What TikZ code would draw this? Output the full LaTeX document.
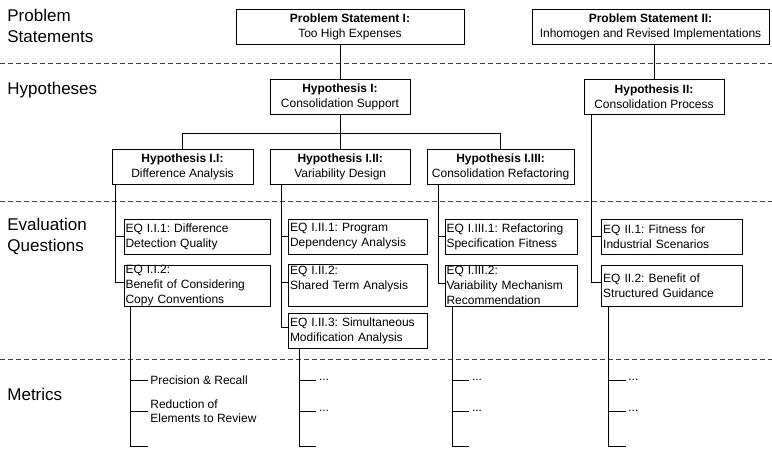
\documentclass[tikz,border=0pt]{standalone}
\usepackage{fontspec}
\setmainfont{Liberation Sans}
\frenchspacing
\begin{document}
\begin{tikzpicture}[x=1pt,y=-1pt,
  line width=0.8pt,
  box/.style={draw,fill=white,line width=0.8pt,inner ysep=0pt,font=\fontsize{12}{15}\selectfont\frenchspacing},
  hbox/.style={box,align=center,inner xsep=2pt,minimum height=35pt},
  eq/.style={box,align=left,inner xsep=1.5pt,minimum height=35pt},
  lbl/.style={font=\fontsize{17}{21}\selectfont,anchor=west,align=left,inner sep=0pt},
  metric/.style={font=\fontsize{12}{14}\selectfont\frenchspacing,anchor=west,align=left,inner xsep=2.3pt,inner ysep=0pt},
  sep/.style={draw=black!75,line width=0.8pt,dash pattern=on 5pt off 3pt}]
\useasboundingbox (0,0) rectangle (772,448);
% separators
\draw[sep] (0,63) -- (772,63);
\draw[sep] (0,201) -- (772,201);
\draw[sep] (0,359) -- (772,359);
% row labels
\node[lbl] (l1) at (7,26) {Problem\\Statements};
\node[lbl] (l2) at (7,90) {Hypotheses};
\node[lbl] (l3) at (7,236) {Evaluation\\Questions};
\node[lbl] (l4) at (7,394) {Metrics};
% problem statements
\node[hbox,minimum width=228pt] (ps1) at (350,26.5) {\textbf{Problem Statement I:}\\Too High Expenses};
\node[hbox,minimum width=237pt] (ps2) at (650.5,26.5) {\textbf{Problem Statement II:}\\Inhomogen and Revised Implementations};
% hypotheses
\node[hbox,minimum width=140pt] (h1) at (340,96.5) {\textbf{Hypothesis I:}\\Consolidation Support};
\node[hbox,minimum width=140pt] (h2) at (654,96.5) {\textbf{Hypothesis II:}\\Consolidation Process};
\node[hbox,minimum width=141pt,minimum height=34.5pt] (hi) at (182.5,166.75) {\textbf{Hypothesis I.I:}\\Difference Analysis};
\node[hbox,minimum width=139.5pt,minimum height=34.5pt] (hii) at (340.25,166.75) {\textbf{Hypothesis I.II:}\\Variability Design};
\node[hbox,minimum width=146.7pt,minimum height=34.5pt] (hiii) at (500.65,166.75) {\textbf{Hypothesis I.III:}\\Consolidation Refactoring};
% evaluation questions
\node[eq,text width=143.7pt] (e11) at (197.35,236.5) {EQ I.I.1: Difference\\Detection Quality};
\node[eq,text width=143.7pt,minimum height=41pt] (e12) at (197.35,285.5) {EQ I.I.2:\\Benefit of Considering\\Copy Conventions};
\node[eq,text width=136pt] (e21) at (358,236.5) {EQ I.II.1: Program\\Dependency Analysis};
\node[eq,text width=136pt,minimum height=41.5pt] (e22) at (358,285.25) {EQ I.II.2:\\Shared Term Analysis\\~};
\node[eq,text width=135.5pt] (e23) at (357.75,330.8) {EQ I.II.3: Simultaneous\\Modification Analysis};
\node[eq,text width=129.5pt] (e31) at (511.25,236.5) {EQ I.III.1: Refactoring\\Specification Fitness};
\node[eq,text width=129.5pt,minimum height=41pt] (e32) at (511.25,285.5) {EQ I.III.2:\\Variability Mechanism\\Recommendation};
\node[eq,text width=137.3pt] (e41) at (671.85,236.5) {EQ II.1: Fitness for\\Industrial Scenarios};
\node[eq,text width=137.3pt,minimum height=41pt] (e42) at (671.85,285.5) {EQ II.2: Benefit of\\Structured Guidance};
% top connectors
\draw (h1.north) -- (h1.north |- ps1.south);
\draw (h2.north) -- (h2.north |- ps2.south);
\coordinate (bar) at (0,133);
\draw (h1.south) -- (h1.south |- bar);
\draw (hi.north) -- (hi.north |- bar) -| (hiii.north);
\draw (hii.north) -- (hii.north |- bar);
% hypothesis to EQ connectors
\coordinate (vi) at ([xshift=4pt]hi.south west);
\coordinate (vii) at ([xshift=11pt]hii.south west);
\coordinate (viii) at ([xshift=11.7pt]hiii.south west);
\coordinate (vh2) at ([xshift=8pt]h2.south west);
\draw (vi) |- (e11.west);
\draw (vi) |- ([yshift=3.5pt]e12.west);
\draw (vii) |- (e21.west);
\draw (vii) |- ([yshift=2.5pt]e22.west);
\draw (vii) |- ([yshift=3pt]e23.west);
\draw (viii) |- (e31.west);
\draw (viii) |- ([yshift=2.5pt]e32.west);
\draw (vh2) |- (e41.west);
\draw (vh2) |- ([yshift=3pt]e42.west);
% metrics
\coordinate (mi) at ([xshift=6.7pt]e12.south west);
\coordinate (mii) at ([xshift=10.8pt]e23.south west);
\coordinate (miii) at ([xshift=7.3pt]e32.south west);
\coordinate (miv) at ([xshift=7pt]e42.south west);
\node[metric] (m11) at (147.7,380) {Precision \& Recall};
\node[metric] (m12) at (147.7,411) {Reduction of\\Elements to Review};
\coordinate (m13) at (147.7,446);
\node[metric] (m21) at (316.3,380) {...};
\node[metric] (m22) at (316.3,411) {...};
\coordinate (m23) at (316.3,446);
\node[metric] (m31) at (469.3,380) {...};
\node[metric] (m32) at (469.3,411) {...};
\coordinate (m33) at (469.3,446);
\node[metric] (m41) at (625.7,380) {...};
\node[metric] (m42) at (625.7,411) {...};
\coordinate (m43) at (625.7,446);
\draw (mi) |- (m11.west); \draw (mi) |- (m12.west); \draw (mi) |- (m13);
\draw (mii) |- (m21.west); \draw (mii) |- (m22.west); \draw (mii) |- (m23);
\draw (miii) |- (m31.west); \draw (miii) |- (m32.west); \draw (miii) |- (m33);
\draw (miv) |- (m41.west); \draw (miv) |- (m42.west); \draw (miv) |- (m43);
\end{tikzpicture}
\end{document}
